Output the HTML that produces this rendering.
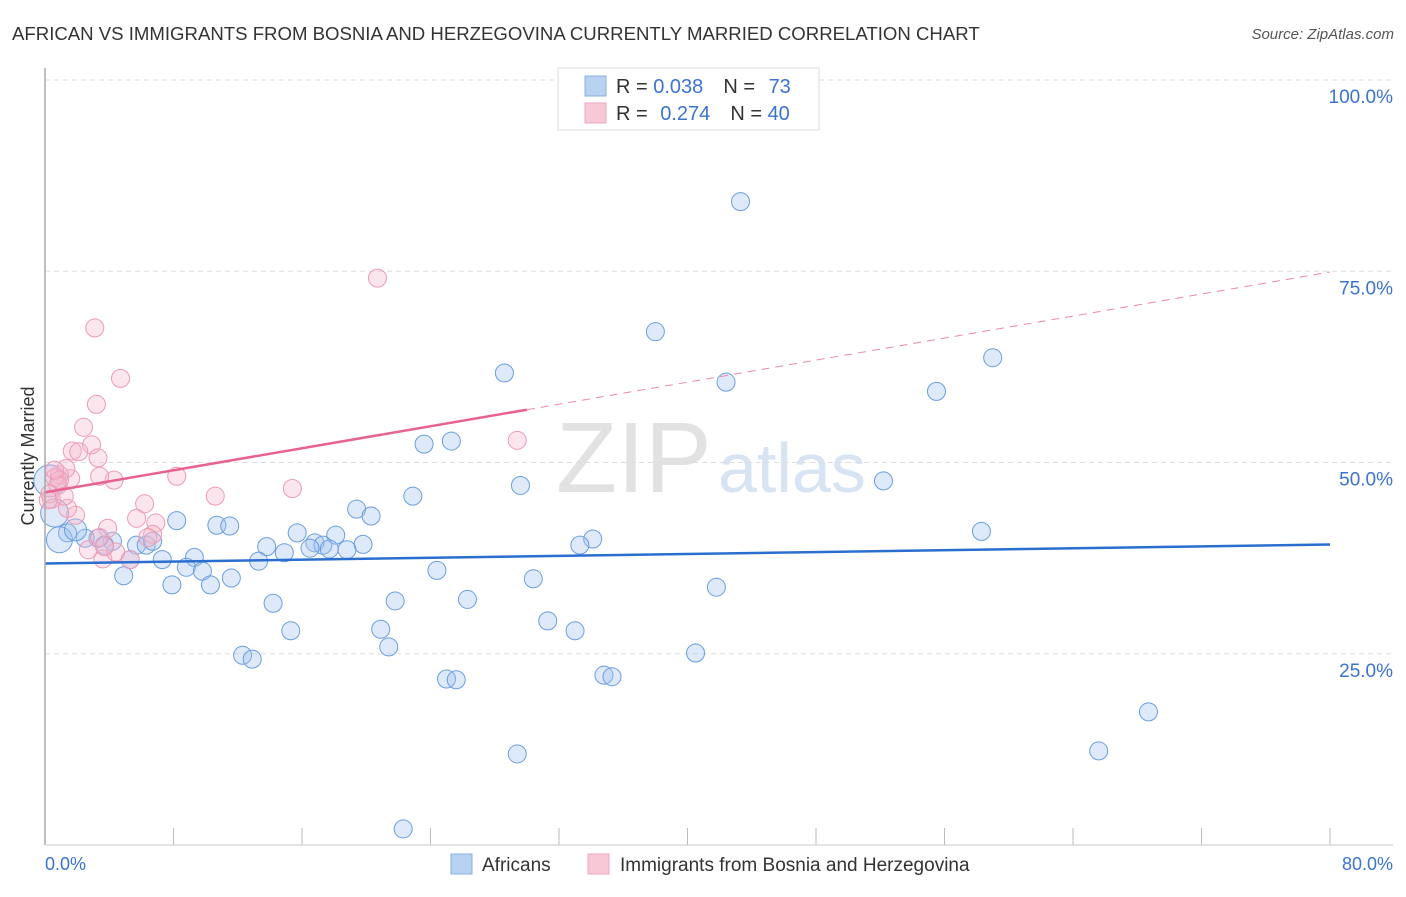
<!DOCTYPE html>
<html><head><meta charset="utf-8"><style>
body{margin:0;background:#fff;font-family:"Liberation Sans",sans-serif;}
svg text{font-family:"Liberation Sans",sans-serif;}
</style></head><body>
<svg id="c" width="1406" height="892" xmlns="http://www.w3.org/2000/svg">
<text x="12" y="40" font-size="18.6" fill="#333">AFRICAN VS IMMIGRANTS FROM BOSNIA AND HERZEGOVINA CURRENTLY MARRIED CORRELATION CHART</text>
<text x="1394" y="39" font-size="15" fill="#555" text-anchor="end" font-style="italic">Source: ZipAtlas.com</text>
<text x="34" y="456" font-size="18" fill="#333" text-anchor="middle" transform="rotate(-90 34 456)">Currently Married</text>
<text x="556" y="492" font-size="100" fill="#e2e2e2" font-family="Liberation Serif">ZIP</text>
<text x="718" y="492" font-size="70" fill="#d6e4f4">atlas</text>
<g id="grid"></g><g id="pts"></g><g id="trend"></g>
<line x1="45" y1="68" x2="45" y2="845" stroke="#aaa" stroke-width="1.5"/>
<line x1="45" y1="845" x2="1393" y2="845" stroke="#ccc"/>
<text x="45" y="870" font-size="18" fill="#3a74d0">0.0%</text>
<text x="1393" y="870" font-size="18" fill="#3a74d0" text-anchor="end">80.0%</text>
<g>
<rect x="558" y="68" width="261" height="62" fill="#fff" stroke="#ddd"/>
<rect x="585" y="76" width="21" height="20" fill="#b8d2f2" stroke="#8ab0e0"/>
<rect x="585" y="103" width="21" height="20" fill="#f8c8d6" stroke="#eea9bd"/>
<text x="616" y="93" font-size="20" fill="#333">R = <tspan fill="#3a74d0">0.038</tspan><tspan dx="20">N = </tspan><tspan fill="#3a74d0" dx="8">73</tspan></text>
<text x="616" y="120" font-size="20" fill="#333">R = <tspan fill="#3a74d0" dx="7">0.274</tspan><tspan dx="20">N = </tspan><tspan fill="#3a74d0">40</tspan></text>
</g>
<g>
<rect x="451" y="854" width="21" height="20" fill="#b8d2f2" stroke="#8ab0e0"/>
<text x="482" y="871" font-size="19" fill="#333">Africans</text>
<rect x="588" y="854" width="21" height="20" fill="#f8c8d6" stroke="#eea9bd"/>
<text x="620" y="871" font-size="19" fill="#333">Immigrants from Bosnia and Herzegovina</text>
</g>
</svg>
<script>
const yTicks=[25,50,75,100];
const xTicks=[0,8,16,24,32,40,48,56,64,72,80];
const blueX=[43.3,38.0,28.6,42.4,59.0,55.5,52.2,25.3,23.6,29.6,22.9,19.4,20.3,8.2,10.7,11.5,58.3,34.1,33.3,15.7,18.1,16.8,17.3,19.8,16.5,17.7,18.8,13.8,14.9,13.3,9.3,7.3,5.7,6.3,6.7,4.2,3.3,2.5,1.4,3.7,5.3,4.9,8.8,9.8,7.9,10.3,11.6,24.4,30.4,41.8,14.2,21.8,26.3,15.3,20.9,31.3,33.0,21.4,12.3,12.9,25.0,25.6,34.8,35.3,40.5,68.7,65.6,29.4,22.3,0.3,0.6,0.9,1.9];
const blueY=[84.1,67.1,61.7,60.5,63.7,59.3,47.6,52.8,52.4,47.0,45.6,43.9,43.0,42.4,41.8,41.7,41.0,40.0,39.2,40.8,40.5,39.5,39.2,39.3,38.8,38.7,38.6,39.0,38.2,37.1,37.6,37.3,39.2,39.2,39.7,39.7,40.1,40.1,40.8,39.2,37.3,35.2,36.3,35.8,34.0,34.0,34.9,35.9,34.8,33.7,31.6,31.9,32.1,28.0,28.2,29.3,28.0,25.9,24.8,24.3,21.7,21.6,22.2,22.0,25.1,17.4,12.3,11.9,2.1,47.6,43.4,39.9,41.2];
const blueR=[9,9,9,9,9,9,9,9,9,9,9,9,9,9,9,9,9,9,9,9,9,9,9,9,9,9,9,9,9,9,9,9,9,9,9,9,9,9,9,9,9,9,9,9,9,9,9,9,9,9,9,9,9,9,9,9,9,9,9,9,9,9,9,9,9,9,9,9,9,16,14,13,11];
const pinkX=[20.7,3.1,4.7,3.2,2.4,2.9,1.7,2.1,3.3,4.3,3.4,1.6,0.9,1.3,0.6,0.8,0.3,0.4,8.2,10.6,15.4,29.4,6.2,1.9,1.4,5.7,6.9,3.9,6.7,6.4,5.3,3.6,4.4,2.7,3.7,3.4,0.9,0.6,0.2,1.2];
const pinkY=[74.1,67.6,61.0,57.6,54.6,52.3,51.5,51.4,50.6,47.7,48.2,47.9,48.4,49.2,48.0,47.0,45.9,45.2,48.2,45.6,46.6,52.9,44.6,43.1,44.0,42.7,42.1,41.4,40.6,40.2,37.3,37.4,38.3,38.6,39.0,40.2,47.7,49.0,45.1,45.6];
const blueA=36.8, blueB=0.031;
const pinkA=46.1, pinkB=0.36, pinkSolidEnd=30;
const sx=v=>45+v/80*1285, sy=v=>845-v/100*765;
const NS='http://www.w3.org/2000/svg';
function mk(t,a,p){const e=document.createElementNS(NS,t);for(const k in a)e.setAttribute(k,a[k]);p.appendChild(e);return e;}
const grid=document.getElementById('grid'),pts=document.getElementById('pts'),tr=document.getElementById('trend');
yTicks.forEach(v=>{
 const l=mk('line',{x1:45,x2:1393,y1:sy(v),y2:sy(v),stroke:'#ddd','stroke-dasharray':'5,4'},grid);
 
 
 const t=mk('text',{x:1393,y:sy(v)+23,'font-size':19,fill:'#3a74d0','text-anchor':'end'},grid);
 t.textContent=v.toFixed(1)+'%';
 
 
});
xTicks.forEach(v=>{
 const l=mk('line',{x1:sx(v),x2:sx(v),y1:828,y2:845,stroke:'#bbb'},grid);
 
 
});
blueX.forEach((x,i)=>{
 const c=mk('circle',{cx:sx(x),cy:sy(blueY[i]),r:blueR[i],fill:'rgba(160,196,238,0.35)',stroke:'#6a9ee0','stroke-width':1},pts);
 
 
});
pinkX.forEach((x,i)=>{
 const c=mk('circle',{cx:sx(x),cy:sy(pinkY[i]),r:9,fill:'rgba(246,182,202,0.35)',stroke:'#ee9ab5','stroke-width':1},pts);
 
 
});
const bl=mk('line',{x1:sx(0),y1:sy(blueA),x2:sx(80),y2:sy(blueA+blueB*80),stroke:'#2a6fd0','stroke-width':2.5},tr);


const pl=mk('line',{x1:sx(0),y1:sy(pinkA),x2:sx(pinkSolidEnd),y2:sy(pinkA+pinkB*pinkSolidEnd),stroke:'#e8628e','stroke-width':2.5},tr);


const pd=mk('line',{x1:sx(pinkSolidEnd),y1:sy(pinkA+pinkB*pinkSolidEnd),x2:sx(80),y2:sy(pinkA+pinkB*80),stroke:'#eb8aaa','stroke-width':1,'stroke-dasharray':'8,6'},tr);


</script>
</body></html>
